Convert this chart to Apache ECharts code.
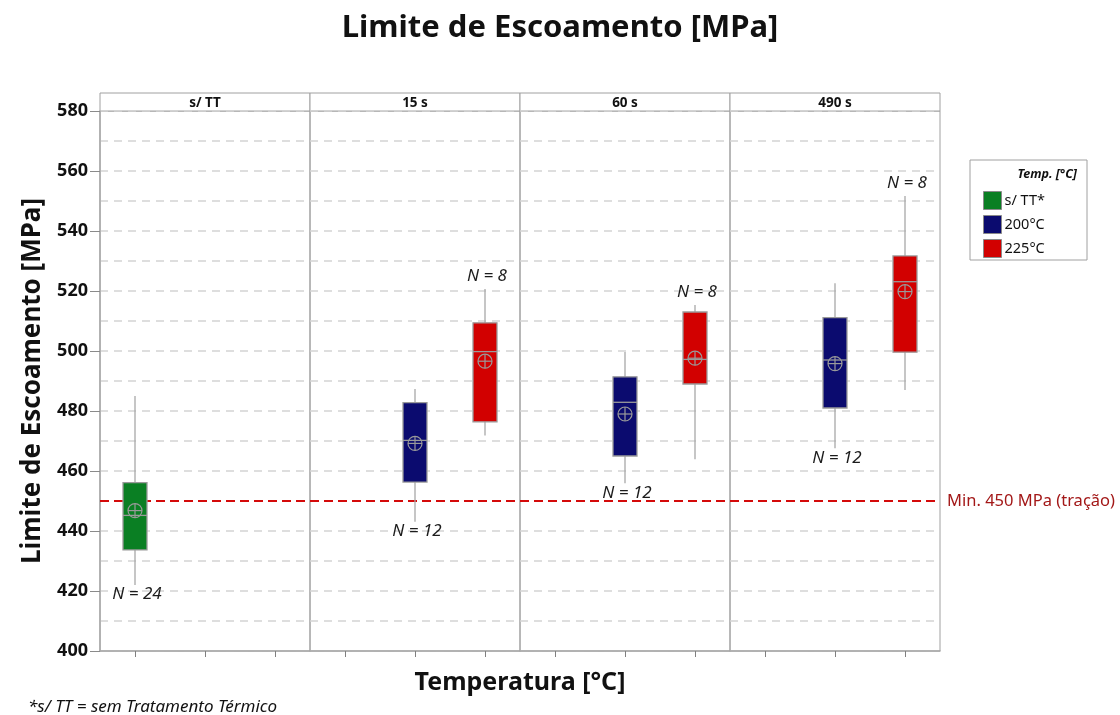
<!DOCTYPE html>
<html>
<head>
<meta charset="utf-8">
<script src="https://cdn.jsdelivr.net/npm/echarts@6/dist/echarts.min.js"></script>
<style>
  html, body { margin: 0; padding: 0; background: #ffffff; }
  #chart { width: 1120px; height: 715px; }
</style>
</head>
<body>
<div id="chart"></div>
<script>
// Panel (time) titles and the groups plotted inside each panel
const panelTitles = ['s/ TT', '15 s', '60 s', '490 s'];
const groupNames = ['s/ TT*', '200°C', '225°C'];
const groupColors = ['#0a7f23', '#0b0b6f', '#d20000'];

// Box statistics per panel:
// [panel, lower whisker, Q1, median, Q3, upper whisker, mean, N]
const semTT = [
  [0, 422.0, 433.7, 445.2, 456.1, 485.0, 446.8, 24]
];
const temp200 = [
  [1, 443.1, 456.3, 470.2, 482.8, 487.3, 469.2, 12],
  [2, 455.9, 465.0, 482.9, 491.4, 499.7, 479.0, 12],
  [3, 467.6, 481.0, 497.0, 511.1, 522.6, 495.8, 12]
];
const temp225 = [
  [1, 471.8, 476.4, 499.8, 509.4, 520.7, 496.6, 8],
  [2, 463.9, 489.0, 497.2, 513.0, 515.3, 497.6, 8],
  [3, 487.0, 499.6, 523.1, 531.7, 551.7, 519.8, 8]
];

// Value axis range and ticks
const yMin = 400;
const yMax = 580;
const yStep = 20;
// Minimum tensile yield reference
const minLimit = 450;
const minLimitLabel = 'Min. 450 MPa (tração)';

const FONT = '"Noto Sans", "Open Sans", sans-serif';
const groupData = [semTT, temp200, temp225];

const panelLeft = 100, panelWidth = 210, plotTop = 111, plotBottom = 651, headerTop = 93;

function renderBox(params, api) {
  const xi = api.value(0);
  const lo = api.coord([xi, api.value(1)]);
  const q1 = api.coord([xi, api.value(2)]);
  const med = api.coord([xi, api.value(3)]);
  const q3 = api.coord([xi, api.value(4)]);
  const hi = api.coord([xi, api.value(5)]);
  const mean = api.coord([xi, api.value(6)]);
  const n = api.value(7);
  const cx = q1[0];
  const w = 24;
  const r = 7;
  const grey = '#9a9a9a';
  const color = api.visual('color');
  const labelAbove = xi === 2;
  return {
    type: 'group',
    children: [
      { type: 'line', shape: { x1: cx, y1: lo[1], x2: cx, y2: hi[1] },
        style: { stroke: '#a8a8a8', lineWidth: 1.3 } },
      { type: 'rect', shape: { x: cx - w / 2, y: q3[1], width: w, height: q1[1] - q3[1] },
        style: { fill: color, stroke: grey, lineWidth: 1.3 } },
      { type: 'line', shape: { x1: cx - w / 2, y1: med[1], x2: cx + w / 2, y2: med[1] },
        style: { stroke: grey, lineWidth: 1.3 } },
      { type: 'circle', shape: { cx: cx, cy: mean[1], r: r },
        style: { fill: 'none', stroke: grey, lineWidth: 1.2 } },
      { type: 'line', shape: { x1: cx - r, y1: mean[1], x2: cx + r, y2: mean[1] },
        style: { stroke: grey, lineWidth: 1.2 } },
      { type: 'line', shape: { x1: cx, y1: mean[1] - r, x2: cx, y2: mean[1] + r },
        style: { stroke: grey, lineWidth: 1.2 } },
      { type: 'text',
        style: {
          text: 'N = ' + n,
          x: cx + 2,
          y: labelAbove ? hi[1] - 4 : lo[1] + 1,
          align: 'center',
          verticalAlign: labelAbove ? 'bottom' : 'top',
          font: 'italic 17px ' + FONT,
          fill: '#1c1c1c'
        } }
    ]
  };
}

const grids = [], xAxes = [], yAxes = [], series = [];
panelTitles.forEach((t, p) => {
  grids.push({
    left: panelLeft + p * panelWidth, width: panelWidth,
    top: plotTop, height: plotBottom - plotTop,
    show: true, borderColor: '#a0a0a0', borderWidth: 1, backgroundColor: 'transparent'
  });
  xAxes.push({
    type: 'category', gridIndex: p, data: groupNames,
    axisLine: { show: true, lineStyle: { color: '#a8a8a8', width: 1.5 } },
    axisTick: { show: true, alignWithLabel: true, length: 6, lineStyle: { color: '#808080' } },
    axisLabel: { show: false },
    splitLine: { show: false }
  });
  yAxes.push({
    type: 'value', gridIndex: p, min: yMin, max: yMax, interval: yStep,
    axisLine: { show: p === 0, lineStyle: { color: '#a8a8a8', width: 1.5 } },
    axisTick: { show: p === 0, length: 10, lineStyle: { color: '#8a8a8a' } },
    axisLabel: { show: p === 0, margin: 12, fontFamily: FONT, fontWeight: 'bold', fontSize: 18, color: '#111' },
    splitLine: { show: true, lineStyle: { color: '#d4d4d4', type: [8, 6], width: 1.5 } },
    minorTick: { show: false, splitNumber: 2 },
    minorSplitLine: { show: true, lineStyle: { color: '#d4d4d4', type: [8, 6], width: 1.5 } }
  });
  groupData.forEach((rows, g) => {
    const data = rows.filter(r => r[0] === p).map(r => [g].concat(r.slice(1)));
    if (!data.length) return;
    series.push({
      type: 'custom', name: groupNames[g], xAxisIndex: p, yAxisIndex: p,
      itemStyle: { color: groupColors[g] },
      encode: { x: 0, y: [1, 2, 3, 4, 5] },
      renderItem: renderBox, data: data, z: 5
    });
  });
  series.push({
    type: 'line', xAxisIndex: p, yAxisIndex: p, data: [], silent: true,
    markLine: {
      silent: true, symbol: 'none', z: 4,
      lineStyle: { color: '#d40a0a', type: [9, 5], width: 2 },
      label: {
        show: p === panelTitles.length - 1, position: 'end', distance: 7,
        formatter: minLimitLabel, color: '#a31818', fontFamily: FONT, fontSize: 16.5
      },
      emphasis: { disabled: true },
      data: [{ yAxis: minLimit }]
    }
  });
});

const graphics = [
  { type: 'text', x: 560, y: 28,
    style: { text: 'Limite de Escoamento [MPa]', font: 'bold 31px ' + FONT, fill: '#111',
      align: 'center', verticalAlign: 'middle' } },
  { type: 'text', x: 33, y: (plotTop + plotBottom) / 2, rotation: Math.PI / 2,
    style: { text: 'Limite de Escoamento [MPa]', font: 'bold 26px ' + FONT, fill: '#111',
      align: 'center', verticalAlign: 'middle' }, originX: 0, originY: 0 },
  { type: 'text', x: 520, y: 683,
    style: { text: 'Temperatura [°C]', font: 'bold 25px ' + FONT, fill: '#111',
      align: 'center', verticalAlign: 'middle' } },
  { type: 'text', x: 28, y: 707,
    style: { text: '*s/ TT = sem Tratamento Térmico', font: 'italic 17px ' + FONT, fill: '#111',
      align: 'left', verticalAlign: 'middle' } },
  { type: 'rect', shape: { x: 970, y: 160, width: 117, height: 100 },
    style: { fill: '#fff', stroke: '#a0a0a0', lineWidth: 1 }, z: 0 },
  { type: 'text', x: 1077, y: 174,
    style: { text: 'Temp. [°C]', font: 'italic bold 12.5px ' + FONT, fill: '#111',
      align: 'right', verticalAlign: 'middle' }, z: 1 }
];
panelTitles.forEach((t, p) => {
  graphics.push({ type: 'rect',
    shape: { x: panelLeft + p * panelWidth, y: headerTop, width: panelWidth, height: plotTop - headerTop },
    style: { fill: '#fff', stroke: '#a0a0a0', lineWidth: 1 } });
  graphics.push({ type: 'text', x: panelLeft + p * panelWidth + panelWidth / 2, y: (headerTop + plotTop) / 2 + 1,
    style: { text: t, font: 'bold 13.5px ' + FONT, fill: '#111', align: 'center', verticalAlign: 'middle' } });
});

const chart = echarts.init(document.getElementById('chart'), null, { renderer: 'canvas' });
chart.setOption({
  animation: false,
  backgroundColor: '#ffffff',
  grid: grids,
  xAxis: xAxes,
  yAxis: yAxes,
  legend: {
    data: groupNames, orient: 'vertical', left: 978, top: 186,
    itemWidth: 18, itemHeight: 18, itemGap: 5, icon: 'rect', selectedMode: false,
    itemStyle: { borderColor: '#8a8a8a', borderWidth: 1 },
    textStyle: { fontFamily: FONT, fontSize: 14.5, color: '#111', padding: [0, 0, 0, -2] },
    z: 10
  },
  graphic: graphics,
  series: series
});
</script>
</body>
</html>
